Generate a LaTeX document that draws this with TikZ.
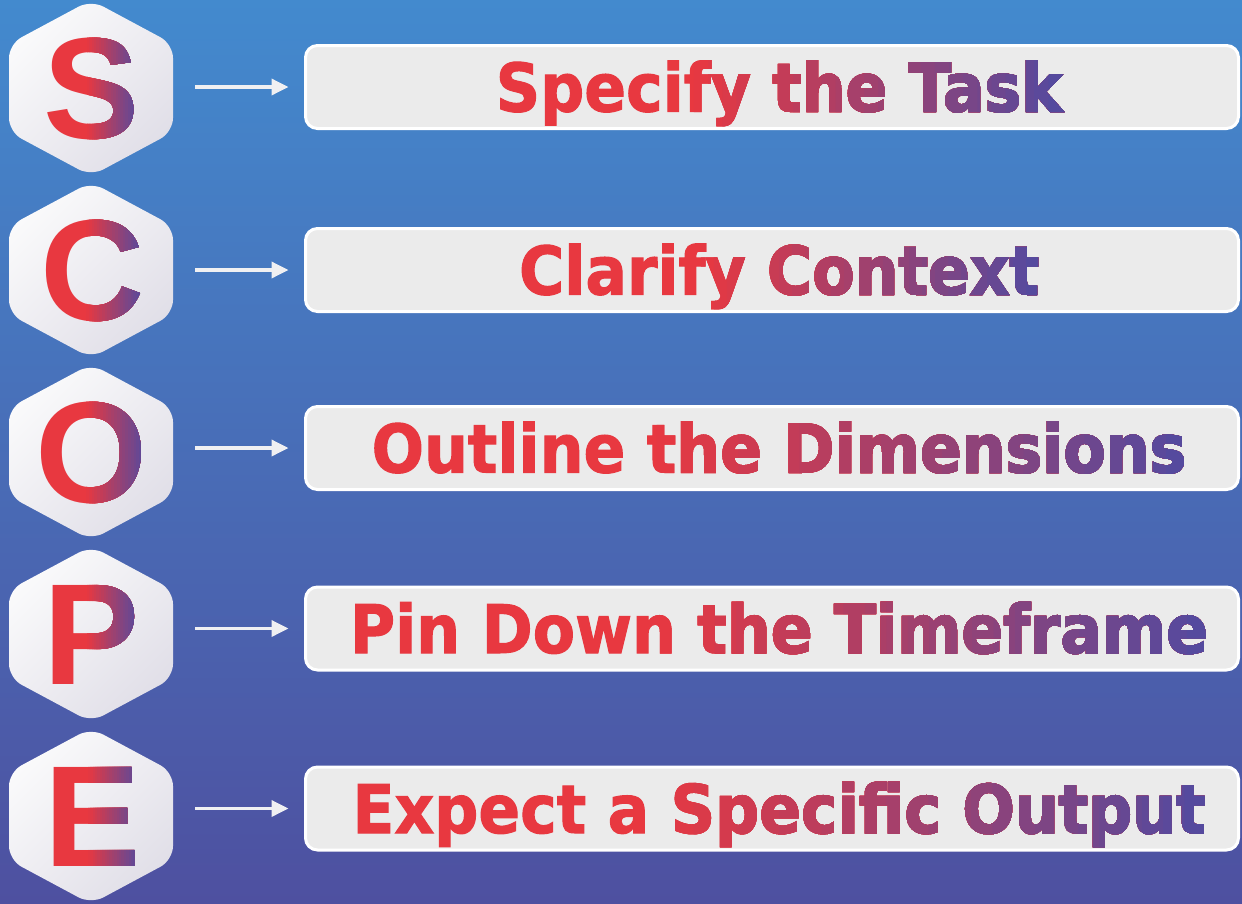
\documentclass[tikz,border=0pt]{standalone}
\usepackage{fontspec}
\newfontfamily\boxfont{DejaVu Sans}[FakeStretch=0.92, FakeBold=1.5]
\newfontfamily\letterfont{Liberation Sans}
\usetikzlibrary{arrows.meta,calc}

\definecolor{bgtop}{RGB}{67,138,206}
\definecolor{bgbottom}{RGB}{78,80,160}
\definecolor{hexlight}{RGB}{250,250,251}
\definecolor{hexdark}{RGB}{225,223,232}
\definecolor{boxfill}{RGB}{235,235,235}
\definecolor{arrowwhite}{RGB}{240,240,242}
\definecolor{gradred}{RGB}{232,56,64}
\definecolor{gradpurple}{RGB}{82,74,160}

% repaint a text node in strips, red on the left and purple on the right
\newcommand\gradtext[4]{%
    \foreach \k in {#3,...,39} {
        \pgfmathsetmacro\frac{\k/40}
        \pgfmathsetmacro\mixp{100*min(1,max(0,1-(\frac+0.0125-#3/40)/(1-#3/40)))}
        \begin{scope}
            \clip ($(#1.south west)!\frac!(#1.south east)+(0,30)$) rectangle ($(#1.north east)+(30,-30)$);
            \node[#2, anchor=center, text={gradred!\mixp!gradpurple}] (#1-\k) at (#1.center) {#4};
        \end{scope}
    }%
}

\begin{document}
\begin{tikzpicture}[x=1pt, y=-1pt, >={Triangle[length=17pt, width=16pt]},
    hexagon/.style={rounded corners=14pt, top color=hexlight, bottom color=hexdark, shading angle=45},
    scopeletter/.style={anchor=center, inner sep=0pt, font=\letterfont\bfseries\fontsize{144pt}{144pt}\selectfont},
    taskbox/.style={draw=white, line width=3pt, fill=boxfill, rounded corners=12pt, minimum width=933pt, minimum height=83pt},
    tasktext/.style={anchor=base, inner sep=0pt, font=\boxfont\bfseries\fontsize{67pt}{67pt}\selectfont},
    link/.style={->, draw=arrowwhite, line width=3.5pt, shorten <=22pt, shorten >=15.5pt}]

    % background
    \shade[top color=bgtop, bottom color=bgbottom] (0,0) rectangle (1242,903);
    \useasboundingbox (0,0) rectangle (1242,903);

    % hexagons
    \shade[hexagon] (91,0) -- (173,44) -- (173,132) -- (91,176) -- (9,132) -- (9,44) -- cycle;
    \shade[hexagon] (91,182) -- (173,226) -- (173,314) -- (91,358) -- (9,314) -- (9,226) -- cycle;
    \shade[hexagon] (91,364) -- (173,408) -- (173,496) -- (91,540) -- (9,496) -- (9,408) -- cycle;
    \shade[hexagon] (91,546) -- (173,590) -- (173,678) -- (91,722) -- (9,678) -- (9,590) -- cycle;
    \shade[hexagon] (91,728) -- (173,772) -- (173,860) -- (91,904) -- (9,860) -- (9,772) -- cycle;

    \coordinate (hexS) at (173,88);
    \coordinate (hexC) at (173,270);
    \coordinate (hexO) at (173,452);
    \coordinate (hexP) at (173,634);
    \coordinate (hexE) at (173,816);

    % letters
    \node[scopeletter, text=gradred] (letterS) at (92,89) {S};
    \node[scopeletter, text=gradred] (letterC) at (92,271) {C};
    \node[scopeletter, text=gradred] (letterO) at (92,453) {O};
    \node[scopeletter, text=gradred] (letterP) at (92,635) {P};
    \node[scopeletter, text=gradred] (letterE) at (93,817) {E};
    \gradtext{letterS}{scopeletter}{18}{S}
    \gradtext{letterC}{scopeletter}{18}{C}
    \gradtext{letterO}{scopeletter}{18}{O}
    \gradtext{letterP}{scopeletter}{18}{P}
    \gradtext{letterE}{scopeletter}{18}{E}

    % boxes
    \node[taskbox] (box1) at (772,87) {};
    \node[taskbox] (box2) at (772,270) {};
    \node[taskbox] (box3) at (772,448) {};
    \node[taskbox] (box4) at (772,628.5) {};
    \node[taskbox] (box5) at (772,808.5) {};

    % arrows
    \draw[link] (hexS |- box1.west) -- (box1.west);
    \draw[link] (hexC |- box2.west) -- (box2.west);
    \draw[link] (hexO |- box3.west) -- (box3.west);
    \draw[link] (hexP |- box4.west) -- (box4.west);
    \draw[link] (hexE |- box5.west) -- (box5.west);

    % texts
    \node[tasktext, text=gradred] (task1) at (779,111.5) {Specify the Task};
    \node[tasktext, text=gradred] (task2) at (779,294.5) {Clarify Context};
    \node[tasktext, text=gradred] (task3) at (779,472.5) {Outline the Dimensions};
    \node[tasktext, text=gradred] (task4) at (779,653) {Pin Down the Timeframe};
    \node[tasktext, text=gradred] (task5) at (779,833) {Expect a Specific Output};
    \gradtext{task1}{tasktext}{14}{Specify the Task}
    \gradtext{task2}{tasktext}{14}{Clarify Context}
    \gradtext{task3}{tasktext}{14}{Outline the Dimensions}
    \gradtext{task4}{tasktext}{14}{Pin Down the Timeframe}
    \gradtext{task5}{tasktext}{14}{Expect a Specific Output}

\end{tikzpicture}
\end{document}
